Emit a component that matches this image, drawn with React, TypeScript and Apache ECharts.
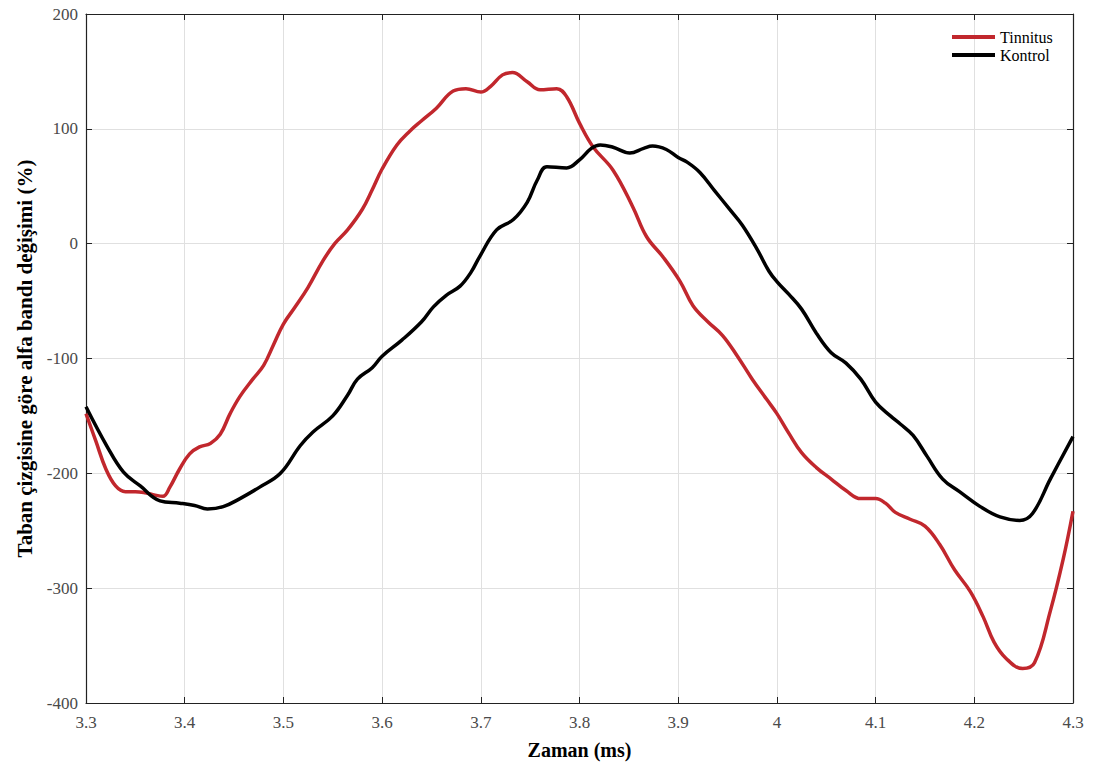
import React, { useEffect, useRef } from "react";
import * as echarts from "echarts";

const tinnitusX = [3.300, 3.310, 3.320, 3.330, 3.340, 3.350, 3.360, 3.370, 3.378, 3.385, 3.395, 3.405, 3.415, 3.426, 3.436, 3.446, 3.456, 3.469, 3.480, 3.490, 3.500, 3.512, 3.525, 3.540, 3.552, 3.565, 3.580, 3.590, 3.600, 3.615, 3.628, 3.640, 3.655, 3.672, 3.685, 3.700, 3.710, 3.722, 3.732, 3.747, 3.760, 3.777, 3.787, 3.800, 3.814, 3.834, 3.854, 3.868, 3.885, 3.902, 3.915, 3.930, 3.945, 3.960, 3.975, 3.990, 4.000, 4.012, 4.025, 4.040, 4.055, 4.070, 4.085, 4.100, 4.110, 4.120, 4.135, 4.150, 4.165, 4.180, 4.196, 4.209, 4.220, 4.232, 4.249, 4.261, 4.277, 4.290, 4.300];
const tinnitusY = [-148, -172, -196, -211, -216, -216, -217, -219, -220, -212, -196, -183, -177, -174, -166, -148, -133, -118, -106, -88, -70, -55, -38, -15, 0, 12, 30, 47, 65, 86, 98, 107, 118, 133, 135, 132, 137, 147, 149, 141, 134, 135, 128, 105, 84, 64, 32, 6, -12, -33, -54, -68, -80, -98, -118, -136, -148, -165, -182, -195, -205, -215, -222, -222, -226, -234, -240, -246, -262, -284, -303, -325, -347, -361, -370, -365, -320, -275, -233];

const kontrolX = [3.300, 3.321, 3.338, 3.355, 3.375, 3.395, 3.410, 3.423, 3.439, 3.456, 3.476, 3.497, 3.517, 3.530, 3.550, 3.565, 3.575, 3.590, 3.600, 3.620, 3.640, 3.652, 3.665, 3.679, 3.690, 3.699, 3.716, 3.733, 3.747, 3.757, 3.767, 3.787, 3.800, 3.812, 3.821, 3.834, 3.851, 3.865, 3.874, 3.888, 3.900, 3.909, 3.922, 3.937, 3.952, 3.965, 3.980, 3.992, 4.000, 4.012, 4.025, 4.040, 4.055, 4.070, 4.085, 4.100, 4.115, 4.125, 4.138, 4.152, 4.168, 4.185, 4.206, 4.226, 4.246, 4.259, 4.277, 4.300];
const kontrolY = [-142, -176, -199, -211, -224, -226, -228, -231, -229, -222, -212, -200, -176, -164, -150, -132, -118, -108, -98, -84, -68, -55, -45, -37, -25, -11, 12, 21, 36, 55, 67, 66, 73, 83, 86, 84, 79, 83, 85, 82, 75, 71, 62, 46, 30, 16, -5, -24, -33, -44, -57, -78, -95, -104, -118, -138, -150, -157, -167, -185, -205, -216, -229, -238, -241, -235, -205, -168];

const seriesNames = ["Tinnitus", "Kontrol"];
const xTitle = "Zaman (ms)";
const yTitle = "Taban çizgisine göre alfa bandı değişimi (%)";

const zip = (xs: number[], ys: number[]) => xs.map((x, i) => [x, ys[i]]);

export default function App() {
  const ref = useRef<HTMLDivElement>(null);
  useEffect(() => {
    if (!ref.current) return;
    const chart = echarts.init(ref.current, undefined, { renderer: "svg" });
    const font = "Liberation Serif";
    const tickLabel = { color: "#4a4a4a", fontFamily: font, fontSize: 17 };
    const frameLine = { show: true, onZero: false, lineStyle: { color: "#222", width: 1.2 } };
    const frameTick = { show: true, inside: true, length: 6, lineStyle: { color: "#222" } };
    chart.setOption({
      animation: false,
      backgroundColor: "#fff",
      grid: { left: 86, right: 23, top: 14, bottom: 60, containLabel: false },
      legend: {
        orient: "vertical",
        left: 947,
        top: 24,
        itemWidth: 43,
        itemHeight: 4,
        itemGap: 2,
        icon: "rect",
        textStyle: { color: "#000", fontFamily: font, fontSize: 16 },
        data: seriesNames,
      },
      xAxis: [
        {
          type: "value",
          min: 3.3,
          max: 4.3,
          interval: 0.1,
          position: "bottom",
          name: xTitle,
          nameLocation: "middle",
          nameGap: 37,
          nameTextStyle: { color: "#000", fontFamily: font, fontSize: 20, fontWeight: "bold" },
          axisLine: frameLine,
          axisTick: frameTick,
          axisLabel: { ...tickLabel, margin: 11, formatter: (v: number) => String(Math.round(v * 10) / 10) },
          splitLine: { show: true, lineStyle: { color: "#e0e0e0", width: 1 } },
        },
        {
          type: "value",
          min: 3.3,
          max: 4.3,
          interval: 0.1,
          position: "top",
          axisLine: frameLine,
          axisTick: frameTick,
          axisLabel: { show: false },
          splitLine: { show: false },
        },
      ],
      yAxis: [
        {
          type: "value",
          min: -400,
          max: 200,
          interval: 100,
          position: "left",
          name: yTitle,
          nameLocation: "middle",
          nameGap: 50,
          nameTextStyle: { color: "#000", fontFamily: font, fontSize: 21, fontWeight: "bold" },
          axisLine: frameLine,
          axisTick: frameTick,
          axisLabel: { ...tickLabel, margin: 8 },
          splitLine: { show: true, lineStyle: { color: "#e0e0e0", width: 1 } },
        },
        {
          type: "value",
          min: -400,
          max: 200,
          interval: 100,
          position: "right",
          axisLine: frameLine,
          axisTick: frameTick,
          axisLabel: { show: false },
          splitLine: { show: false },
        },
      ],
      series: [
        {
          name: seriesNames[0],
          type: "line",
          data: zip(tinnitusX, tinnitusY),
          smooth: 0.4,
          showSymbol: false,
          symbol: "none",
          color: "#c1272d",
          lineStyle: { color: "#c1272d", width: 3.5 },
          z: 3,
        },
        {
          name: seriesNames[1],
          type: "line",
          data: zip(kontrolX, kontrolY),
          smooth: 0.4,
          showSymbol: false,
          symbol: "none",
          color: "#000",
          lineStyle: { color: "#000", width: 3.5 },
          z: 4,
        },
      ],
    });
    return () => chart.dispose();
  }, []);
  return (
    <div
      ref={ref}
      style={{ position: "fixed", left: 0, top: 0, width: 1096, height: 765, background: "#fff" }}
    />
  );
}
